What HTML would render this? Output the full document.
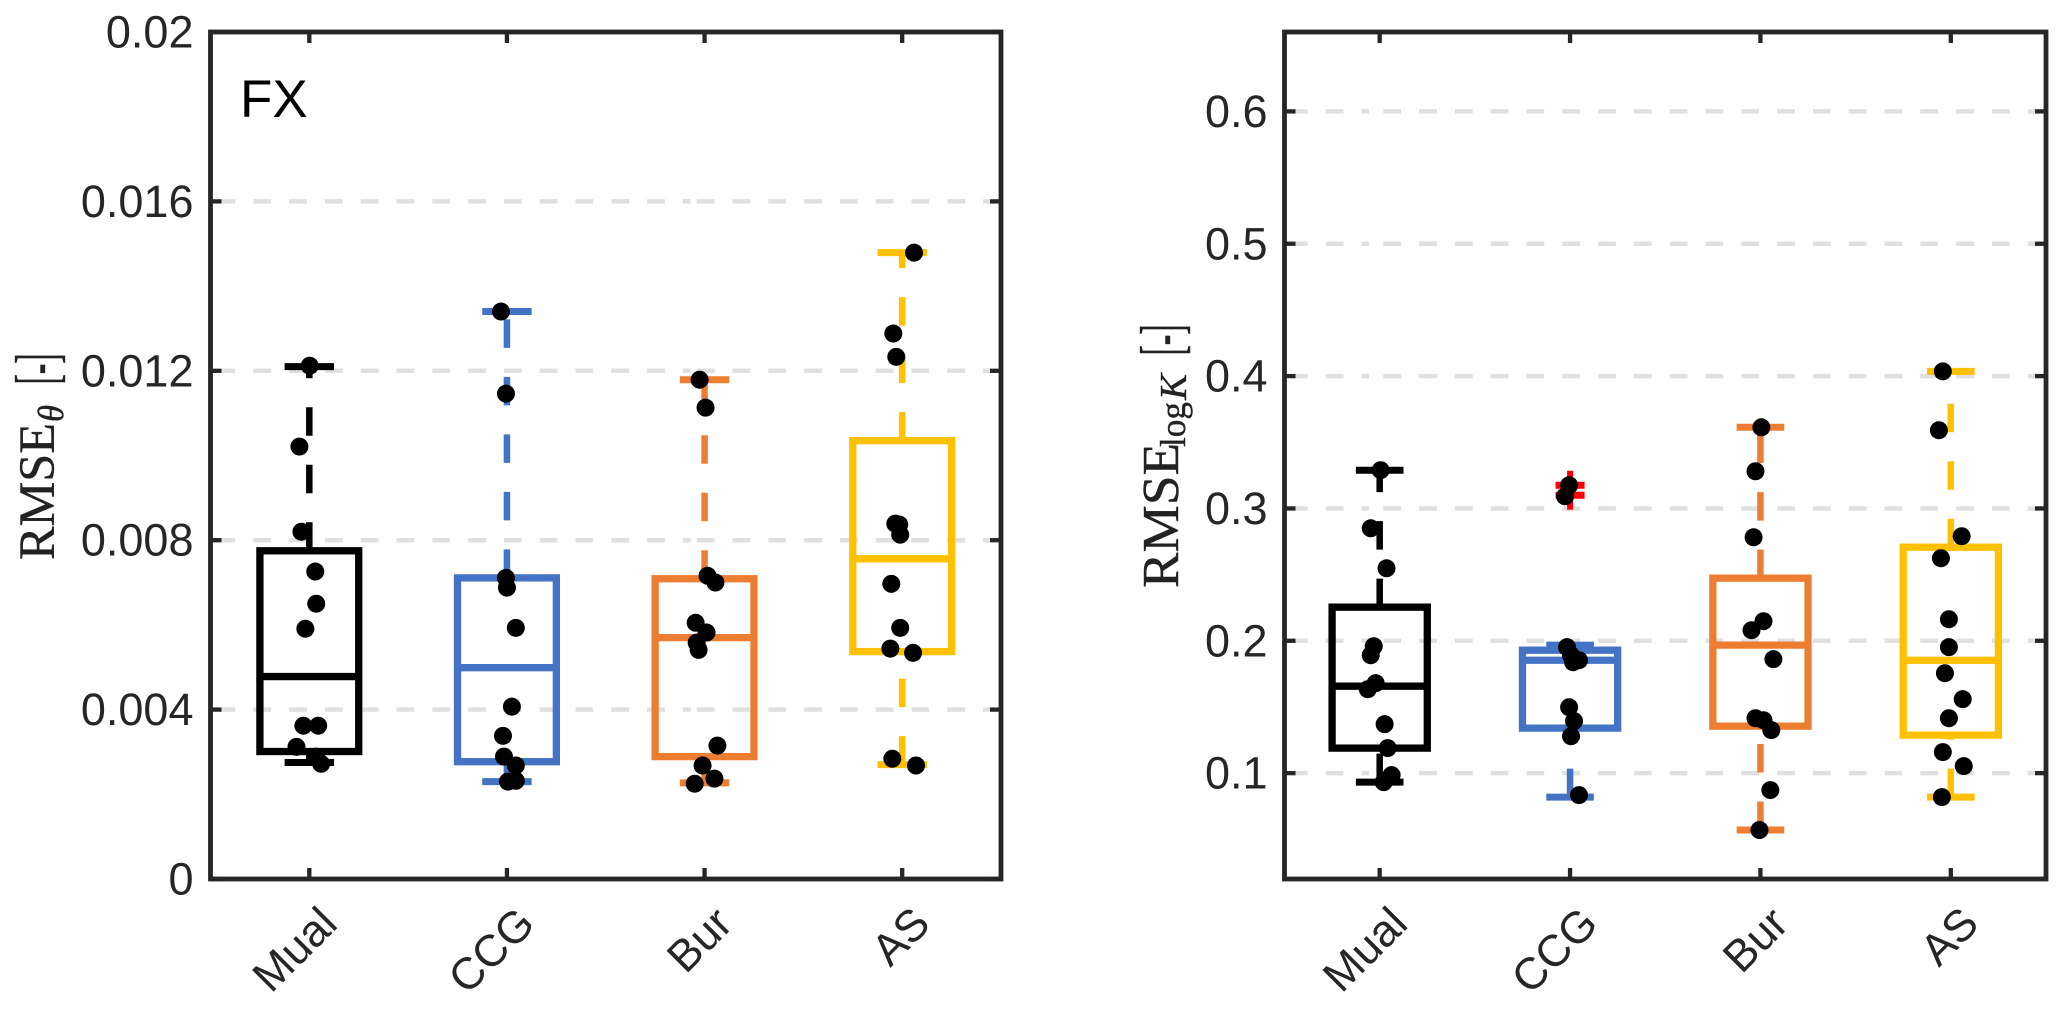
<!DOCTYPE html>
<html lang="en">
<head>
<meta charset="utf-8">
<title>RMSE box plots</title>
<style>
html,body{margin:0;padding:0;background:#fff;width:2067px;height:1011px;overflow:hidden}
svg{display:block}
text{font-family:"Liberation Sans",Arial,sans-serif;fill:#262626}
.cm{font-family:"Liberation Serif","Times New Roman",serif;fill:#222;stroke:#222;stroke-width:.4}
</style>
</head>
<body>
<svg id="figure" xmlns="http://www.w3.org/2000/svg" width="2067" height="1011" viewBox="0 0 2067 1011">
  <rect width="2067" height="1011" fill="#fff"/>
  <g id="panel-left"></g>
  <g id="panel-right"></g>

  <text x="240" y="117" font-size="53" style="fill:#000">FX</text>

  <g>
    <text class="cm" transform="translate(54,560) rotate(-90)" font-size="51" textLength="137" lengthAdjust="spacingAndGlyphs">RMSE</text>
    <text class="cm" transform="translate(63,422) rotate(-90)" font-size="36" font-style="italic" textLength="17" lengthAdjust="spacingAndGlyphs">θ</text>
    <text class="cm" transform="translate(57,384.5) rotate(-90) scale(0.52,1)" font-size="60">[-]</text>
  </g>
  <g>
    <text class="cm" transform="translate(1178,588) rotate(-90)" font-size="52" textLength="145" lengthAdjust="spacingAndGlyphs">RMSE</text>
    <text class="cm" transform="translate(1185,447) rotate(-90)" font-size="36" textLength="45" lengthAdjust="spacingAndGlyphs">log</text>
    <text class="cm" transform="translate(1186,400) rotate(-90)" font-size="38" font-style="italic" textLength="26" lengthAdjust="spacingAndGlyphs">K</text>
    <text class="cm" transform="translate(1182,355.5) rotate(-90) scale(0.52,1)" font-size="60">[-]</text>
  </g>
</svg>
<script>
// ---- shared data ----
const categories = ["Mual", "CCG", "Bur", "AS"];
const seriesColors = ["#000000", "#4472C4", "#ED7D31", "#FFC000"];

// ---- left panel data (RMSE theta) ----
const leftYLimits = [0, 0.02];
const leftYTicks = [0, 0.004, 0.008, 0.012, 0.016, 0.02];
const leftYTickLabels = ["0", "0.004", "0.008", "0.012", "0.016", "0.02"];
const leftGridValues = [0.004, 0.008, 0.012, 0.016];
const leftQ1 = [0.00301, 0.00277, 0.00289, 0.00537];
const leftMedian = [0.00478, 0.00499, 0.00570, 0.00756];
const leftQ3 = [0.00775, 0.00711, 0.00709, 0.01035];
const leftWhiskerLow = [0.00275, 0.00230, 0.00227, 0.00270];
const leftWhiskerHigh = [0.01210, 0.01340, 0.01179, 0.01479];
const leftOutliers = [[], [], [], []];
const leftPoints = [
  [0.01212, 0.01021, 0.00820, 0.00726, 0.00650, 0.00591, 0.00362, 0.00362, 0.00312, 0.00289, 0.00272],
  [0.01340, 0.01146, 0.00711, 0.00688, 0.00593, 0.00407, 0.00338, 0.00289, 0.00268, 0.00230, 0.00232],
  [0.01179, 0.01113, 0.00716, 0.00700, 0.00605, 0.00582, 0.00558, 0.00541, 0.00315, 0.00268, 0.00237, 0.00225],
  [0.01479, 0.01288, 0.01233, 0.00839, 0.00837, 0.00813, 0.00697, 0.00593, 0.00544, 0.00534, 0.00284, 0.00268]
];
const leftJitter = [
  [0.002, -0.05, -0.04, 0.03, 0.035, -0.02, -0.03, 0.045, -0.065, 0.035, 0.06],
  [-0.03, -0.005, -0.005, 0, 0.045, 0.025, -0.02, -0.015, 0.045, 0.005, 0.045],
  [-0.025, 0.005, 0.015, 0.055, -0.045, 0.01, -0.04, -0.03, 0.065, -0.01, 0.05, -0.05],
  [0.06, -0.045, -0.03, -0.035, -0.015, -0.01, -0.055, -0.01, -0.06, 0.055, -0.05, 0.07]
];

// ---- right panel data (RMSE log K) ----
const rightYLimits = [0.02, 0.66];
const rightYTicks = [0.1, 0.2, 0.3, 0.4, 0.5, 0.6];
const rightYTickLabels = ["0.1", "0.2", "0.3", "0.4", "0.5", "0.6"];
const rightGridValues = [0.1, 0.2, 0.3, 0.4, 0.5, 0.6];
const rightQ1 = [0.1189, 0.1340, 0.1355, 0.1287];
const rightMedian = [0.1657, 0.1853, 0.1967, 0.1853];
const rightQ3 = [0.2254, 0.1929, 0.2473, 0.2707];
const rightWhiskerLow = [0.0932, 0.0819, 0.0570, 0.0819];
const rightWhiskerHigh = [0.3289, 0.1967, 0.3613, 0.4036];
const rightOutliers = [[], [0.3175, 0.3100], [], []];
const rightPoints = [
  [0.3289, 0.2850, 0.2548, 0.1959, 0.1891, 0.1680, 0.1634, 0.1370, 0.1189, 0.0985, 0.0932],
  [0.3175, 0.3092, 0.1952, 0.1891, 0.1853, 0.1853, 0.1838, 0.1498, 0.1393, 0.1279, 0.0834],
  [0.3613, 0.3281, 0.2782, 0.2148, 0.2080, 0.1861, 0.1415, 0.1400, 0.1325, 0.0872, 0.0570],
  [0.4036, 0.3591, 0.2790, 0.2624, 0.2163, 0.1952, 0.1755, 0.1559, 0.1415, 0.1159, 0.1053, 0.0819]
];
const rightJitter = [
  [0.005, -0.047, 0.036, -0.031, -0.047, -0.021, -0.0625, 0.026, 0.042, 0.0625, 0.021],
  [-0.005, -0.026, -0.016, 0.005, 0.021, 0.047, 0.016, -0.005, 0.021, 0.005, 0.047],
  [0.005, -0.026, -0.036, 0.016, -0.047, 0.068, -0.026, 0.016, 0.057, 0.052, -0.005],
  [-0.042, -0.0625, 0.057, -0.052, -0.01, -0.01, -0.031, 0.0625, -0.01, -0.042, 0.068, -0.047]
];

const SVG_NS = "http://www.w3.org/2000/svg";
const AXIS_COLOR = "#262626";
const GRID_COLOR = "#e0e0e0";

function make(tag, parent, attrs) {
  const el = document.createElementNS(SVG_NS, tag);
  for (const k in attrs) el.setAttribute(k, attrs[k]);
  parent.appendChild(el);
  return el;
}

function drawPanel(p) {
  const root = document.getElementById(p.id);
  const xScale = v => p.left + (v - 0.5) / 4 * (p.right - p.left);
  const yScale = v => p.bottom - (v - p.yLim[0]) / (p.yLim[1] - p.yLim[0]) * (p.bottom - p.top);
  const unit = xScale(2) - xScale(1);

  // grid: dash pattern restarts once along each line, as in the source figure
  p.grid.forEach(function (v) {
    const y = yScale(v);
    [[p.gridStart, p.gridBreakA], [p.gridBreakB, p.right - 3]].forEach(function (seg) {
      const g = make("line", root, {
        x1: seg[0], x2: seg[1], y1: y, y2: y,
        stroke: GRID_COLOR, "stroke-width": 4.5, "stroke-dasharray": "17.8 18"
      });
      
      
    });
  });

  // boxes
  categories.forEach(function (name, i) {
    const cx = xScale(i + 1);
    const color = seriesColors[i];
    const box = make("g", root, {});
    
    

    const upper = make("line", box, {
      x1: cx, x2: cx, y1: yScale(p.q3[i]), y2: yScale(p.hi[i]),
      stroke: color, "stroke-width": 6.5, "stroke-dasharray": "28.5 29"
    });
    
    

    const lower = make("line", box, {
      x1: cx, x2: cx, y1: yScale(p.lo[i]), y2: yScale(p.q1[i]),
      stroke: color, "stroke-width": 6.5, "stroke-dasharray": "28.5 29"
    });
    
    

    [p.hi[i], p.lo[i]].forEach(function (v) {
      const cap = make("line", box, {
        x1: cx - unit * 0.125, x2: cx + unit * 0.125,
        y1: yScale(v), y2: yScale(v),
        stroke: color, "stroke-width": 7
      });
      
      
    });

    const body = make("rect", box, {
      x: cx - unit * 0.25, width: unit * 0.5,
      y: yScale(p.q3[i]), height: yScale(p.q1[i]) - yScale(p.q3[i]),
      fill: "none", stroke: color, "stroke-width": 7.3
    });
    
    

    const med = make("line", box, {
      x1: cx - unit * 0.25, x2: cx + unit * 0.25,
      y1: yScale(p.med[i]), y2: yScale(p.med[i]),
      stroke: color, "stroke-width": 7.3
    });
    
    

    p.out[i].forEach(function (v) {
      const arm = 14.5;
      const h = make("line", box, {
        x1: cx - arm, x2: cx + arm, y1: yScale(v), y2: yScale(v),
        stroke: "#ff0000", "stroke-width": 7
      });
      
      
      const w = make("line", box, {
        x1: cx, x2: cx, y1: yScale(v) - arm, y2: yScale(v) + arm,
        stroke: "#ff0000", "stroke-width": 6
      });
      
      
    });
  });

  // jittered data points
  categories.forEach(function (name, i) {
    p.points[i].forEach(function (v, j) {
      const c = make("circle", root, {
        cx: xScale(i + 1 + p.jitter[i][j]), cy: yScale(v), r: 9, fill: "#000"
      });
      
      
    });
  });

  // frame
  const frame = make("rect", root, {
    x: p.left, y: p.top, width: p.right - p.left, height: p.bottom - p.top,
    fill: "none", stroke: AXIS_COLOR, "stroke-width": 4.8
  });
  
  

  // x ticks + labels
  categories.forEach(function (name, i) {
    const x = xScale(i + 1);
    [[p.top, p.top + 11], [p.bottom, p.bottom - 11]].forEach(function (t) {
      const tick = make("line", root, {
        x1: x, x2: x, y1: t[0], y2: t[1], stroke: AXIS_COLOR, "stroke-width": 4.3
      });
      
      
    });
    const lx = x + 30;
    const ly = 926;
    const label = make("text", root, {
      x: lx, y: ly, "font-size": 44.5, "text-anchor": "end",
      transform: "rotate(-45 " + lx + " " + ly + ")"
    });
    label.textContent = name;
    
    
  });

  // y ticks + labels
  p.yTicks.forEach(function (v, i) {
    const y = yScale(v);
    [[p.left, p.left + 11], [p.right, p.right - 11]].forEach(function (t) {
      const tick = make("line", root, {
        x1: t[0], x2: t[1], y1: y, y2: y, stroke: AXIS_COLOR, "stroke-width": 4.3
      });
      
      
    });
    const label = make("text", root, {
      x: p.left - 17, y: y + 15.5, "font-size": 45, "text-anchor": "end"
    });
    label.textContent = p.yTickLabels[i];
    
    
  });
}

drawPanel({
  id: "panel-left", left: 210.5, right: 1001, top: 32, bottom: 879,
  yLim: leftYLimits, yTicks: leftYTicks, yTickLabels: leftYTickLabels, grid: leftGridValues,
  q1: leftQ1, med: leftMedian, q3: leftQ3, lo: leftWhiskerLow, hi: leftWhiskerHigh,
  out: leftOutliers, points: leftPoints, jitter: leftJitter,
  gridStart: 217.5, gridBreakA: 690.7, gridBreakB: 696.7
});
drawPanel({
  id: "panel-right", left: 1284.5, right: 2046, top: 32, bottom: 879,
  yLim: rightYLimits, yTicks: rightYTicks, yTickLabels: rightYTickLabels, grid: rightGridValues,
  q1: rightQ1, med: rightMedian, q3: rightQ3, lo: rightWhiskerLow, hi: rightWhiskerHigh,
  out: rightOutliers, points: rightPoints, jitter: rightJitter,
  gridStart: 1289.9, gridBreakA: 1369, gridBreakB: 1383.3
});
</script>
</body>
</html>
